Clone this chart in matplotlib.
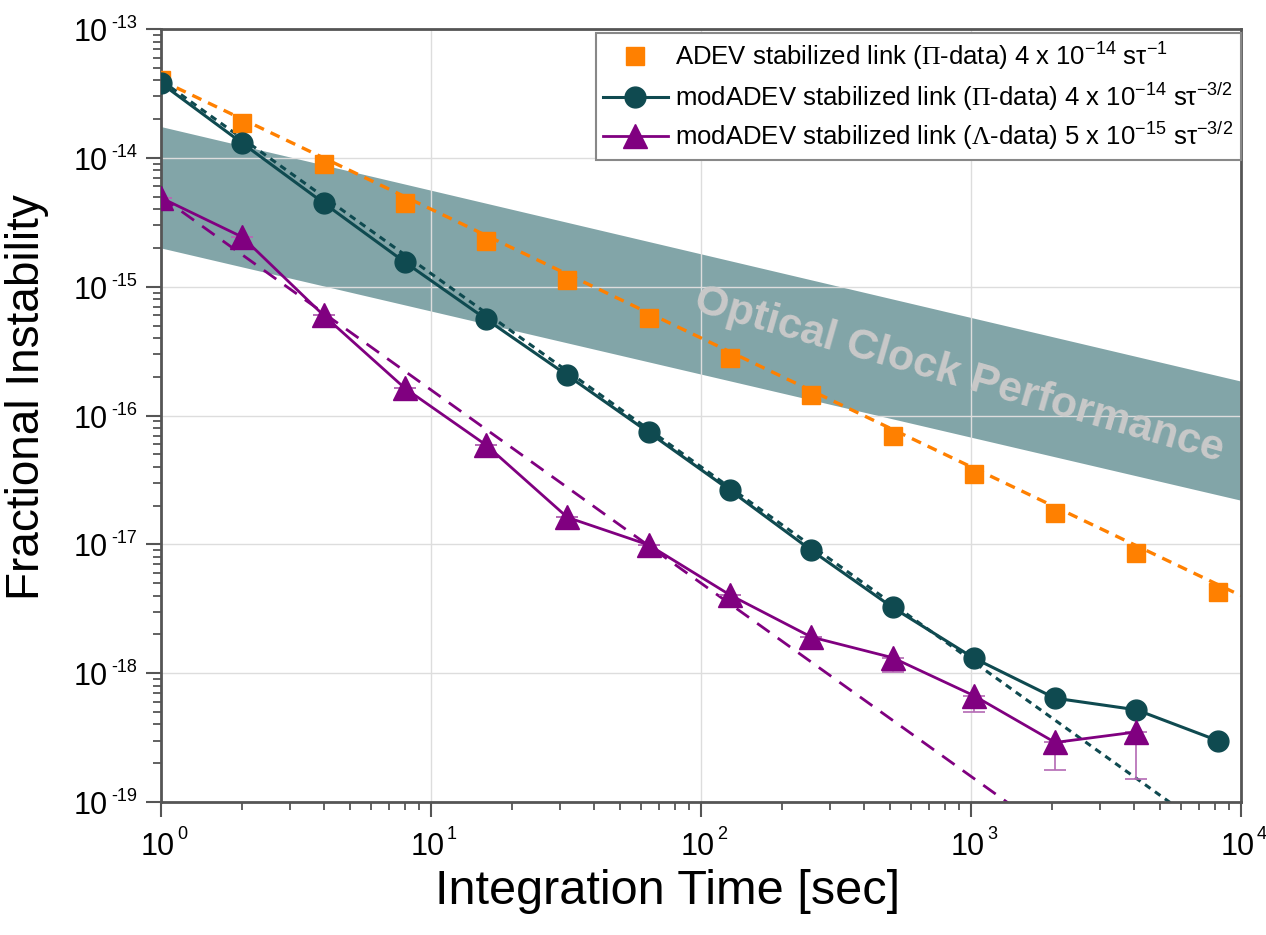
import numpy as np
import matplotlib
matplotlib.use("Agg")
import matplotlib.pyplot as plt
import matplotlib.transforms as mtransforms

plt.rcParams['font.family'] = ['Liberation Sans', 'DejaVu Sans']
plt.rcParams['mathtext.fontset'] = 'custom'
plt.rcParams['mathtext.rm'] = 'Liberation Sans'
plt.rcParams['mathtext.it'] = 'Liberation Sans:italic'
plt.rcParams['mathtext.tt'] = 'Liberation Serif'
plt.rcParams['mathtext.default'] = 'regular'

# averaging times (s)
tau = [1, 2, 4, 8, 16, 32, 64, 128, 256, 512, 1024, 2048, 4096, 8192]

# ADEV, Pi-data
adev_pi = [4.0e-14, 1.87e-14, 8.9e-15, 4.47e-15, 2.25e-15, 1.12e-15, 5.7e-16,
           2.8e-16, 1.44e-16, 7.0e-17, 3.5e-17, 1.74e-17, 8.5e-18, 4.27e-18]

# modADEV, Pi-data
madev_pi = [3.8e-14, 1.30e-14, 4.47e-15, 1.55e-15, 5.6e-16, 2.05e-16, 7.4e-17,
            2.63e-17, 9.0e-18, 3.24e-18, 1.31e-18, 6.4e-19, 5.2e-19, 3.0e-19]

# modADEV, Lambda-data (one point shorter)
tau_lam = tau[:-1]
madev_lam = [4.9e-15, 2.43e-15, 6.0e-16, 1.63e-16, 5.9e-17, 1.62e-17, 9.9e-18,
             4.05e-18, 1.91e-18, 1.32e-18, 6.7e-19, 2.9e-19, 3.5e-19]
madev_lam_low = [0, 0, 0, 0, 0, 0, 0, 0, 0, 0.29e-18, 1.7e-19, 1.13e-19, 1.98e-19]

# fit lines (end points)
fit_tau = [1, 1e4]
fit_adev = [4e-14, 4e-18]
fit_madev_pi = [4e-14, 4e-20]
fit_madev_lam = [5e-15, 5e-21]

# optical clock performance band
band_tau = [1, 1e4]
band_hi = [1.75e-14, 1.85e-16]
band_lo = [2.0e-15, 2.2e-17]

# decade tick labels
x_decades = [0, 1, 2, 3, 4]
y_decades = [-19, -18, -17, -16, -15, -14, -13]

orange = '#ff8000'
teal = '#0f4a50'
purple = '#800080'

fig = plt.figure(figsize=(12.66, 9.35), dpi=100)
ax = fig.add_axes([0.1272, 0.1422, 0.8531, 0.8267])
ax.set_xscale('log')
ax.set_yscale('log')
ax.set_xlim(1, 1e4)
ax.set_ylim(1e-19, 1e-13)

ax.fill_between(band_tau, band_lo, band_hi, color='#82a5a8', lw=0, zorder=0.2)
ax.text(900, 2.05e-16, 'Optical Clock Performance', rotation=-16,
        ha='center', va='center', fontsize=31, fontweight='bold',
        color='#c9c9c9', zorder=0.6)

ax.grid(True, which='major', color='#dddddd', lw=1)
ax.set_axisbelow(True)

# fits
ax.plot(fit_tau, fit_adev, color=orange, lw=2.4, dashes=(3, 2.2), zorder=2)
ax.plot(fit_tau, fit_madev_pi, color=teal, lw=2.2, dashes=(2.2, 1.8), zorder=2)
ax.plot(fit_tau, fit_madev_lam, color=purple, lw=2.0, dashes=(5.5, 3.6), zorder=2)

# data
ax.plot(tau, adev_pi, ls='none', marker='s', ms=13, color=orange, zorder=3,
        label=r'ADEV stabilized link ($\mathtt{\Pi}$-data) 4 x 10$^{-14}$ sτ$^{-1}$')
ax.plot(tau, madev_pi, '-', marker='o', ms=15, lw=2.2, color=teal, zorder=4,
        label=r'modADEV stabilized link ($\mathtt{\Pi}$-data) 4 x 10$^{-14}$ sτ$^{-3/2}$')
ax.errorbar(tau_lam, madev_lam, yerr=[madev_lam_low, [0] * len(madev_lam)],
            fmt='none', ecolor='#b46ab4', elinewidth=1.2, capsize=8, capthick=1.2,
            zorder=3.5)
ax.plot(tau_lam, madev_lam, '-', marker='^', ms=17, lw=2.0, color=purple, zorder=4,
        label=r'modADEV stabilized link ($\mathtt{\Lambda}$-data) 5 x 10$^{-15}$ sτ$^{-3/2}$')

for s in ax.spines.values():
    s.set_color('#555555')
    s.set_linewidth(2)
ax.tick_params(which='major', direction='out', length=10.5, width=1.5,
               color='#555555', top=False, right=False,
               labelbottom=False, labelleft=False)
ax.tick_params(which='minor', direction='out', length=5.5, width=1.3,
               color='#555555', top=False, right=False)
ax.yaxis.set_minor_locator(matplotlib.ticker.LogLocator(base=10, subs=np.arange(2, 10), numticks=20))
ax.xaxis.set_minor_locator(matplotlib.ticker.LogLocator(base=10, subs=np.arange(2, 10), numticks=20))
ax.xaxis.set_minor_formatter(matplotlib.ticker.NullFormatter())
ax.yaxis.set_minor_formatter(matplotlib.ticker.NullFormatter())

# tick labels drawn as "10" plus a small exponent, like the original
xt = mtransforms.blended_transform_factory(ax.transData, ax.transAxes)
yt = mtransforms.blended_transform_factory(ax.transAxes, ax.transData)
for d in x_decades:
    ax.annotate('10', (10.0 ** d, 0), xycoords=xt, xytext=(14, -53),
                textcoords='offset pixels', ha='right', va='baseline',
                fontsize=22, annotation_clip=False)
    ax.annotate(str(d), (10.0 ** d, 0), xycoords=xt, xytext=(16, -37),
                textcoords='offset pixels', ha='left', va='baseline',
                fontsize=13, annotation_clip=False)
for d in y_decades:
    ax.annotate('10', (0, 10.0 ** d), xycoords=yt, xytext=(-53, -12),
                textcoords='offset pixels', ha='right', va='baseline',
                fontsize=22, annotation_clip=False)
    ax.annotate(str(d), (0, 10.0 ** d), xycoords=yt, xytext=(-24, 1),
                textcoords='offset pixels', ha='right', va='baseline',
                fontsize=13, annotation_clip=False)

ax.set_xlabel('Integration Time [sec]', fontsize=35)
ax.xaxis.set_label_coords(0.469, -0.086)
ax.set_ylabel('Fractional Instability', fontsize=33)
ax.yaxis.set_label_coords(-0.104, 0.524)

leg = ax.legend(loc='upper right', bbox_to_anchor=(1.0, 0.995), fontsize=18.5,
                frameon=True, fancybox=False, framealpha=1, edgecolor='#888888',
                handlelength=2.5, handletextpad=0.3, borderpad=0.3,
                labelspacing=0.3, borderaxespad=0)
leg.get_frame().set_linewidth(1.5)

fig.savefig('out.png', dpi=100)
